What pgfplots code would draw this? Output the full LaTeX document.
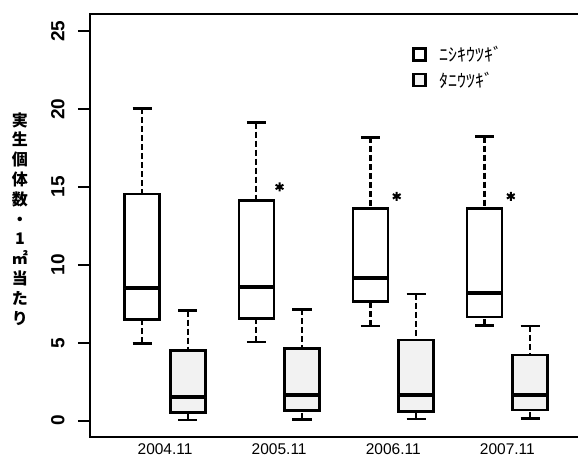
\documentclass[border=0pt]{standalone}
\usepackage{pgfplots}
\pgfplotsset{compat=1.18}
\usepgfplotslibrary{statistics}
\usepackage{fontspec}
\setmainfont{Liberation Sans}
\newfontfamily\jp{Noto Sans CJK JP}
\begin{document}
\begin{tikzpicture}
\begin{axis}[
  at={(90pt,27pt)}, anchor=south west, scale only axis,
  width=492pt, height=423pt,
  xmin=0.342, xmax=4.654, ymin=-1.05, ymax=26.1,
  axis line style={line width=2pt},
  xtick={1,2,3,4}, xticklabels={2004.11,2005.11,2006.11,2007.11},
  xtick style={draw=none},
  ytick={0,5,10,15,20,25}, ytick pos=left, tick align=outside,
  ytick style={line width=2pt, black}, major tick length=12pt,
  /pgf/number format/assume math mode=true,
  yticklabel style={rotate=90, anchor=south, yshift=10pt, font=\fontsize{19}{19}\selectfont\bfseries},
  xticklabel style={font=\fontsize{15.5}{16}\selectfont, yshift=9pt},
  ylabel={{\jp\bfseries\fontsize{16pt}{19.8pt}\selectfont\begin{tabular}{@{}c@{}}実\\生\\個\\体\\数\\・\\1\\㎡\\当\\た\\り\end{tabular}}},
  ylabel style={rotate=-90, at={(axis description cs:-0.1423,0.51)}, anchor=center},
  legend style={at={(0.654,0.93)}, anchor=north west, draw=none, fill=none,
    font=\jp\fontsize{18}{18}\selectfont, row sep=5pt, inner sep=0pt},
  legend cell align=left,
  boxplot/draw direction=y,
  boxplot/box extend=0.307,
  boxplot/whisker extend=0.167,
  boxplot/draw/lower whisker/.code={
    \draw[dash pattern=on 6pt off 3pt, line width=2.2pt]
      (boxplot box cs:\pgfplotsboxplotvalue{lower whisker},0.5) --
      (boxplot box cs:\pgfplotsboxplotvalue{lower quartile},0.5);
    \draw[line width=2.8pt]
      (boxplot whisker cs:\pgfplotsboxplotvalue{lower whisker},0) --
      (boxplot whisker cs:\pgfplotsboxplotvalue{lower whisker},1);
  },
  boxplot/draw/upper whisker/.code={
    \draw[dash pattern=on 6pt off 3pt, line width=2.2pt]
      (boxplot box cs:\pgfplotsboxplotvalue{upper whisker},0.5) --
      (boxplot box cs:\pgfplotsboxplotvalue{upper quartile},0.5);
    \draw[line width=2.8pt]
      (boxplot whisker cs:\pgfplotsboxplotvalue{upper whisker},0) --
      (boxplot whisker cs:\pgfplotsboxplotvalue{upper whisker},1);
  },
  boxplot/draw/median/.code={
    \draw[line width=4pt]
      (boxplot box cs:\pgfplotsboxplotvalue{median},0) --
      (boxplot box cs:\pgfplotsboxplotvalue{median},1);
  },
]
\addlegendimage{legend image code/.code={\draw[line width=2.6pt, fill=white] (0pt,-6pt) rectangle (12pt,6pt);}}
\addlegendentry{\hspace{11pt}ﾆｼｷｳﾂｷﾞ}
\addlegendimage{legend image code/.code={\draw[line width=2.6pt, fill=black!5] (0pt,-6pt) rectangle (12pt,6pt);}}
\addlegendentry{\hspace{11pt}ﾀﾆｳﾂｷﾞ}

% Nishiki-utsugi
\addplot[black, fill=white, line width=2.6pt, boxplot prepared={draw position=0.8,
  lower whisker=4.97, lower quartile=6.51, median=8.5, upper quartile=14.55, upper whisker=20.05}] coordinates {};
\addplot[black, fill=white, line width=2.6pt, boxplot prepared={draw position=1.8,
  lower whisker=5.05, lower quartile=6.55, median=8.6, upper quartile=14.12, upper whisker=19.13}] coordinates {};
\addplot[black, fill=white, line width=2.6pt, boxplot prepared={draw position=2.8,
  lower whisker=6.08, lower quartile=7.64, median=9.14, upper quartile=13.63, upper whisker=18.19}] coordinates {};
\addplot[black, fill=white, line width=2.6pt, boxplot prepared={draw position=3.8,
  lower whisker=6.12, lower quartile=6.64, median=8.22, upper quartile=13.63, upper whisker=18.23}] coordinates {};
% Tani-utsugi
\addplot[black, fill=black!5, line width=2.6pt, boxplot prepared={draw position=1.2,
  lower whisker=0.04, lower quartile=0.51, median=1.5, upper quartile=4.49, upper whisker=7.06}] coordinates {};
\addplot[black, fill=black!5, line width=2.6pt, boxplot prepared={draw position=2.2,
  lower whisker=0.09, lower quartile=0.64, median=1.65, upper quartile=4.62, upper whisker=7.15}] coordinates {};
\addplot[black, fill=black!5, line width=2.6pt, boxplot prepared={draw position=3.2,
  lower whisker=0.11, lower quartile=0.58, median=1.65, upper quartile=5.18, upper whisker=8.13}] coordinates {};
\addplot[black, fill=black!5, line width=2.6pt, boxplot prepared={draw position=4.2,
  lower whisker=0.15, lower quartile=0.69, median=1.65, upper quartile=4.22, upper whisker=6.08}] coordinates {};
% significance asterisks
\addplot[only marks, mark=asterisk, mark size=4.5pt, line width=2pt, black] coordinates {(2.003,15.0) (3.03,14.4) (4.03,14.4)};
\end{axis}
\pgfresetboundingbox
\path[use as bounding box] (0,0) rectangle (578pt,464pt);
\end{tikzpicture}
\end{document}
